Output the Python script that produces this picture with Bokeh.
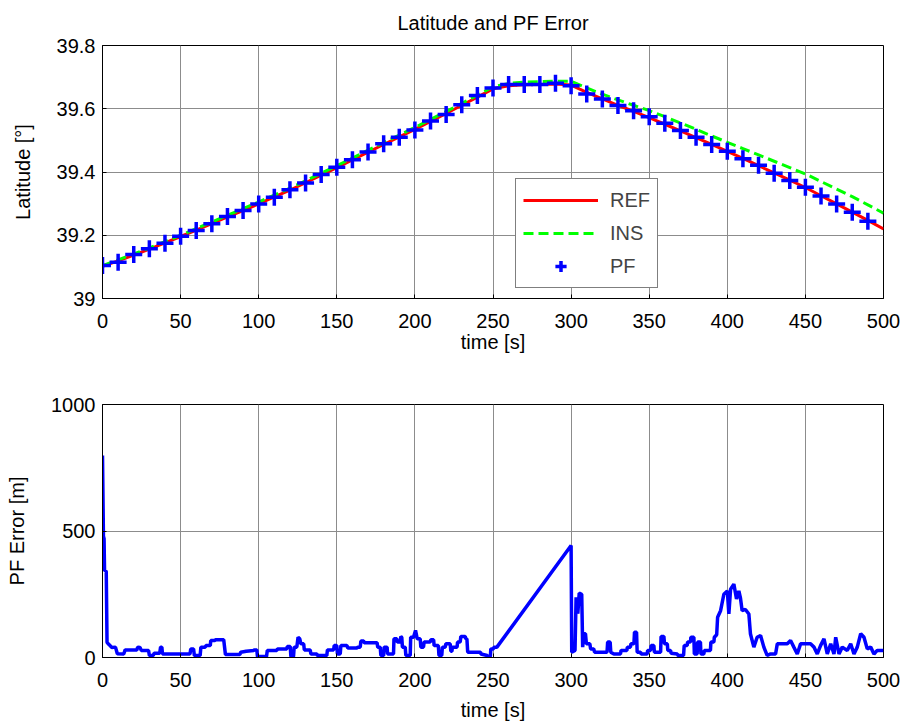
from bokeh.plotting import figure
from bokeh.layouts import column
from bokeh.models import (Range1d, FixedTicker, Legend, LegendItem,
                          PrintfTickFormatter)
from bokeh.embed import file_html
from bokeh.resources import INLINE

FONT = "Liberation Sans"

# ---------------- data ----------------
TITLE = "Latitude and PF Error"
X_TICKS = [0, 50, 100, 150, 200, 250, 300, 350, 400, 450, 500]
Y1_TICKS = [39.0, 39.2, 39.4, 39.6, 39.8]
Y2_TICKS = [0, 500, 1000]

T_LAT = list(range(0, 510, 10))
REF = [39.102, 39.119, 39.137, 39.156, 39.176, 39.196, 39.216, 39.237, 39.258, 39.278,
       39.299, 39.321, 39.343, 39.366, 39.390, 39.414, 39.438, 39.463, 39.487, 39.511,
       39.535, 39.560, 39.585, 39.611, 39.637, 39.663, 39.673, 39.676, 39.677, 39.678,
       39.675, 39.652, 39.631, 39.611, 39.592, 39.572, 39.551, 39.530, 39.509, 39.487,
       39.465, 39.443, 39.420, 39.397, 39.374, 39.351, 39.325, 39.299, 39.273, 39.247,
       39.220]
INS = [39.104, 39.122, 39.141, 39.160, 39.180, 39.200, 39.221, 39.242, 39.263, 39.284,
       39.305, 39.327, 39.349, 39.372, 39.396, 39.420, 39.444, 39.469, 39.493, 39.517,
       39.541, 39.566, 39.591, 39.617, 39.643, 39.669, 39.680, 39.684, 39.686, 39.687,
       39.687, 39.666, 39.646, 39.628, 39.611, 39.594, 39.575, 39.555, 39.535, 39.514,
       39.494, 39.474, 39.454, 39.434, 39.414, 39.394, 39.370, 39.346, 39.322, 39.296,
       39.270]
T_PF = list(range(0, 500, 10))
PF = [39.104, 39.115, 39.139, 39.157, 39.175, 39.197, 39.215, 39.236, 39.259, 39.278,
      39.299, 39.320, 39.344, 39.365, 39.392, 39.415, 39.439, 39.463, 39.489, 39.510,
      39.533, 39.561, 39.582, 39.613, 39.642, 39.666, 39.677, 39.677, 39.677, 39.681,
      39.673, 39.647, 39.631, 39.610, 39.594, 39.575, 39.554, 39.531, 39.510, 39.487,
      39.466, 39.442, 39.421, 39.396, 39.373, 39.352, 39.324, 39.299, 39.273, 39.244]

ERR_T = [0, 0.6, 1.0, 1.3, 2.4, 2.9, 4, 6, 8.3, 9.5, 13.6, 14.5, 22, 22.5, 24, 24.8, 29.5,
         30, 32.5, 33, 36.6, 37.2, 38, 38.4, 56, 56.5, 58.3, 58.8, 62.5, 63, 65.8, 66.2, 69,
         69.3, 72, 72.3, 77.6, 78.7, 88, 88.5, 92, 96.8, 97.2, 98.8, 99.2, 105, 105.5, 111.6,
         112, 118, 118.3, 120.2, 120.6, 122.3, 122.7, 124.4, 125.2, 126.3, 127, 128.8, 129.2,
         133, 133.4, 137.2, 137.6, 143.6, 144, 148, 148.3, 150, 150.4, 152.2, 152.6, 156.5,
         157, 163, 163.4, 165, 165.4, 167.2, 167.5, 175.8, 176.2, 177.8, 178.2, 180, 180.3,
         182.2, 182.5, 186.3, 186.6, 188.4, 188.8, 190.6, 191, 191.6, 192, 193.8, 194.2, 197,
         197.3, 199.1, 200.4, 201.5, 202, 203.4, 203.8, 205.5, 205.9, 209.8, 210.2, 212,
         212.3, 215, 215.4, 217.2, 217.6, 219.4, 219.8, 222.6, 223, 223.7, 224, 227, 227.3,
         229, 229.4, 232.2, 232.6, 233.3, 233.8, 242, 242.3, 246.3, 246.6, 248.3, 248.6,
         250.3, 250.6, 252.5, 300.0, 300.4, 302.5, 303.2, 304.3, 305.2, 306.8, 307.4, 308.1,
         309.2, 309.8, 312, 312.5, 314.5, 315, 323, 323.4, 325, 325.4, 327.4, 331.6, 332,
         335.7, 336, 338, 338.3, 340.2, 340.6, 341.9, 342.3, 344.5, 344.8, 348.7, 349, 350.9,
         351.2, 353, 353.3, 357.3, 357.6, 359.4, 359.8, 361.6, 361.9, 363.7, 364, 368, 368.3,
         372, 372.4, 374.3, 374.6, 376.4, 376.7, 378.6, 378.9, 380.7, 381, 382.8, 383.1, 385,
         385.3, 389.2, 389.5, 391.4, 391.7, 393.2, 393.8, 395.7, 397.8, 400, 401, 402.1,
         404.2, 405.9, 407.4, 408.4, 409.5, 411.6, 413.8, 414.8, 417, 419.1, 421.3, 423.4,
         425.5, 427.7, 430.9, 432, 434.1, 438.4, 440.5, 442.6, 444.8, 446.9, 449.1, 453.3,
         455.5, 457.6, 459.7, 461.9, 464, 466.2, 468.3, 469.4, 471.5, 473.6, 476.8, 479,
         481.1, 483.2, 485.4, 487.5, 489.6, 491.8, 493.9, 496, 500]
ERR_V = [798, 480, 470, 345, 340, 60, 52, 40, 41, 15, 14, 30, 30, 41, 40, 28, 28,
         8, 8, 17, 17, 41, 41, 14, 14, 34, 34, 8, 8, 41, 41, 47, 47,
         67, 67, 70, 70, 12, 12, 21, 25, 28, 30, 30, 4, 4, 28, 28,
         34, 34, 43, 43, 4, 4, 41, 41, 80, 74, 54, 54, 30,
         30, 14, 14, 8, 8, 30, 30, 47, 47, 14, 14, 47, 47,
         38, 38, 41, 41, 65, 65, 58, 58, 41, 41, 8, 8, 41,
         41, 14, 14, 74, 74, 61, 61, 83, 80, 41, 41, 8, 8,
         80, 80, 107, 74, 74, 74, 41, 41, 61, 61, 70, 70,
         47, 47, 8, 8, 41, 41, 54, 54, 25, 25, 41, 41, 61,
         61, 83, 83, 74, 74, 21, 21, 14, 8, 4, 4, 34,
         34, 41, 41, 443, 21, 28, 238, 173, 254, 250, 41, 94,
         94, 54, 54, 34, 34, 21, 21, 61, 61, 21, 14, 14, 28,
         28, 41, 41, 54, 54, 100, 100, 21, 21, 14, 14, 28, 28,
         47, 47, 21, 21, 83, 83, 54, 54, 28, 28, 17, 14, 8,
         8, 47, 47, 61, 61, 80, 80, 14, 14, 61, 61, 14, 14,
         28, 28, 61, 61, 80, 90, 159, 185, 250, 263, 172, 270,
         290, 231, 263, 236, 185, 190, 172, 94, 41, 80, 87, 41,
         8, 14, 14, 54, 54, 54, 67, 41, 14, 54, 54, 54,
         41, 14, 47, 74, 14, 54, 14, 80, 14, 41, 28, 54,
         14, 41, 94, 80, 34, 41, 14, 28, 28]

GRID = "#8c8c8c"


def style(p, xlabel, ylabel, yticks, xlabel_standoff):
    p.background_fill_color = "white"
    p.border_fill_color = "white"
    p.outline_line_color = "black"
    p.outline_line_width = 1
    for ax in p.xaxis:
        ax.ticker = FixedTicker(ticks=X_TICKS)
        ax.axis_label = xlabel
        ax.major_label_standoff = 15
        ax.axis_label_standoff = xlabel_standoff
    for ax in p.yaxis:
        ax.ticker = FixedTicker(ticks=yticks)
        ax.axis_label = ylabel
        ax.major_label_standoff = 7
        ax.axis_label_standoff = 20
    for ax in list(p.xaxis) + list(p.yaxis):
        ax.major_label_text_font = FONT
        ax.major_label_text_font_size = "20px"
        ax.major_label_text_color = "black"
        ax.axis_label_text_font = FONT
        ax.axis_label_text_font_size = "20px"
        ax.axis_label_text_font_style = "normal"
        ax.axis_label_text_color = "black"
        ax.major_tick_in = 4
        ax.major_tick_out = 0
        ax.minor_tick_line_color = None
        ax.axis_line_color = "black"
        ax.major_tick_line_color = "black"
    p.xgrid.ticker = FixedTicker(ticks=X_TICKS)
    p.ygrid.ticker = FixedTicker(ticks=yticks)
    for g in (p.xgrid, p.ygrid):
        g.grid_line_color = GRID
        g.grid_line_width = 1


p1 = figure(frame_width=781, frame_height=253, min_border_left=102, min_border_right=26,
            min_border_top=45, min_border_bottom=67, output_backend="svg",
            toolbar_location=None, x_range=Range1d(0, 500), y_range=Range1d(39, 39.8))
p1.title.text = TITLE
p1.title.align = "center"
p1.title.vertical_align = "top"
p1.title.text_font = FONT
p1.title.text_font_size = "20px"
p1.title.text_font_style = "normal"
p1.title.text_color = "black"
p1.title.standoff = 20
style(p1, "time [s]", "Latitude [°]", Y1_TICKS, 0)
p1.yaxis[0].formatter = PrintfTickFormatter(format="%g")

r_ref = p1.line(T_LAT, REF, color="#ff0000", line_width=3)
r_ins = p1.line(T_LAT, INS, color="#00ff00", line_width=3, line_dash="10 5")
r_pf = p1.scatter(T_PF, PF, marker="cross", size=17, line_color="#0000ff", line_width=3.5)

legend = Legend(items=[LegendItem(label="REF", renderers=[r_ref]),
                       LegendItem(label="INS", renderers=[r_ins]),
                       LegendItem(label="PF", renderers=[r_pf])],
                location=(413, 10), orientation="vertical")
legend.border_line_color = "black"
legend.border_line_width = 1
legend.background_fill_color = "white"
legend.background_fill_alpha = 1
legend.label_text_font = FONT
legend.label_text_font_size = "20px"
legend.glyph_width = 75
legend.glyph_height = 28
legend.label_height = 28
legend.spacing = 5
legend.padding = 7
legend.label_standoff = 12
legend.margin = 0
p1.add_layout(legend)

p2 = figure(frame_width=781, frame_height=253, min_border_left=102, min_border_right=26,
            min_border_top=39, min_border_bottom=70, output_backend="svg",
            toolbar_location=None, x_range=Range1d(0, 500), y_range=Range1d(0, 1000))
style(p2, "time [s]", "PF Error [m]", Y2_TICKS, 9)
p2.line(ERR_T, ERR_V, color="#0000ff", line_width=3.5)

layout = column(p1, p2, spacing=0)
open("out.html", "w").write(file_html(layout, INLINE))
